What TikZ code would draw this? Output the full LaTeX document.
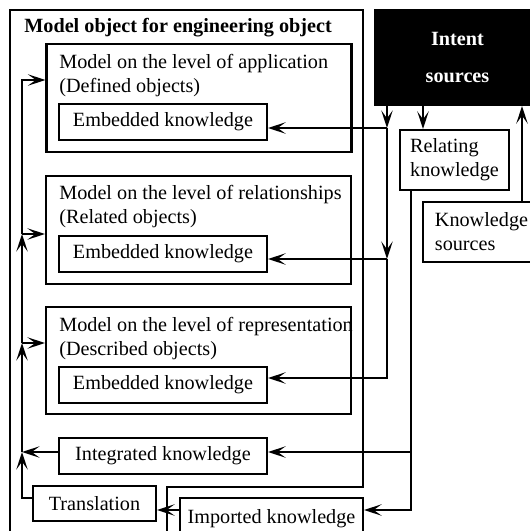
\documentclass[tikz,border=0pt]{standalone}
\usepackage{fontspec}
\setmainfont{Liberation Serif}
\usetikzlibrary{arrows.meta, positioning}
\tikzset{
>={Stealth[length=10pt,width=6.5pt,inset=4.5pt]},
every node/.style={font=\fontsize{11.5}{13.6}\selectfont}, % Times-like text everywhere
box/.style={draw, line width=1.2pt, inner sep=0pt}, % plain frame
ekbox/.style={box, minimum width=4.16cm, minimum height=0.72cm}, % the small knowledge frames
levelbox/.style={box, minimum width=6.1cm, minimum height=2.16cm}, % one model level
lbl/.style={inner sep=0pt, align=left},
link/.style={line width=1.2pt},
}

\begin{document}
\begin{tikzpicture}[x=0.02cm, y=-0.02cm]
\useasboundingbox (0,0) rectangle (530,531);
% outer model object, open at the bottom
\draw[link] (167,545) -- (167,487) -- (363,487) -- (363,10) -- (10,10) -- (10,545);
\node[lbl, font=\fontsize{11.5}{13.6}\selectfont\bfseries, anchor=base west] (title) at (24,32) {Model object for engineering object};

\node[levelbox] at (199,98) (app) {};
\node[lbl, anchor=base west] at (59,92) (applbl) {Model on the level of application\\(Defined objects)};
\node[ekbox] at (163,122) (ek1) {Embedded knowledge};

\node[levelbox] at (198.5,230) (rel) {};
\node[lbl, anchor=base west] at (59,223) (rellbl) {Model on the level of relationships\\(Related objects)};
\node[ekbox] at (163,254) (ek2) {Embedded knowledge};

\node[levelbox, minimum height=2.14cm] at (198.5,360.5) (rep) {};
\node[lbl, anchor=base west] at (59,355) (replbl) {Model on the level of representation\\(Described objects)};
\node[ekbox] at (163,385) (ek3) {Embedded knowledge};

\node[ekbox] at (163,456) (integ) {Integrated knowledge};
\node[box, minimum width=2.46cm, minimum height=0.7cm] at (94.5,503.5) (trans) {Translation};
\node[box, minimum width=3.66cm, minimum height=0.84cm] at (271.5,519) (imp) {Imported knowledge};

\node[box, fill=black, text=white, font=\fontsize{11.5}{13.6}\selectfont\bfseries, align=center, minimum width=3.3cm, minimum height=1.9cm] at (457.5,57.5) (intent) {Intent\\[7pt]sources};
\node[box, align=left, minimum width=2.18cm, minimum height=1.2cm] at (454.5,160) (relk) {Relating\\knowledge};
\node[box, align=left, minimum width=2.34cm, minimum height=1.2cm] at (481.5,232) (ksrc) {Knowledge\\sources};

% junction points
\coordinate (j1) at (387,128);
\coordinate (j2) at (387,259);
\coordinate (j3) at (387,378);
\coordinate (j4) at (411,452);
\coordinate (j5) at (411,510);
\coordinate (r1) at (423,0);
\coordinate (k1) at (522,0);
\coordinate (b0) at (22,498);
\coordinate (b1) at (22,452);
\coordinate (b2) at (22,343);
\coordinate (b3) at (22,234);
\coordinate (b4) at (22,80);

% intent feeds the embedded knowledge
\draw[link, ->] (intent.south -| j1) -- (j1);
\draw[link, ->] (j1) -- (j1 -| ek1.east);
\draw[link, ->] (j1) -- (j2);
\draw[link, ->] (j2) -- (j2 -| ek2.east);
\draw[link, ->] (j2) -- (j3) -- (j3 -| ek3.east);
\draw[link, ->] (intent.south -| r1) -- (relk.north -| r1);
\draw[link, ->] (ksrc.north -| k1) -- (intent.south -| k1);

% relating knowledge
\draw[link, ->] (relk.south -| j4) -- (j4) -- (j4 -| integ.east);
\draw[link, ->] (j4) -- (j5) -- (j5 -| imp.east);
\draw[link, ->] (imp.west |- j5) -- (trans.east |- j5);

% left bus up to the levels
\draw[link, ->] (trans.west |- b0) -- (b0) -- (b1);
\draw[link, ->] (integ.west |- b1) -- (b1);
\draw[link, ->] (b1) -- (b2);
\draw[link, ->] (b2) -- (rep.west |- b2);
\draw[link, ->] (b2) -- (b3);
\draw[link, ->] (b3) -- (rel.west |- b3);
\draw[link, ->] (b3) -- (b4) -- (app.west |- b4);
\end{tikzpicture}
\end{document}
